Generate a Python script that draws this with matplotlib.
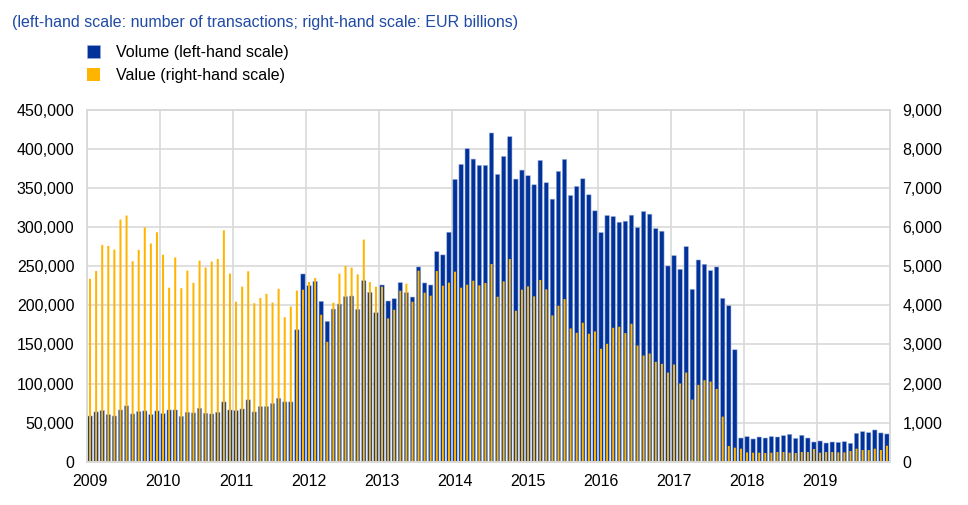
import numpy as np
import matplotlib
matplotlib.use('Agg')
from matplotlib import pyplot as plt
from matplotlib.ticker import FuncFormatter, MultipleLocator

plt.rcParams['font.family'] = ['Liberation Sans', 'DejaVu Sans']

years = list(range(2009, 2020))

# volume: number of transactions per month (left-hand scale)
volume = [
    58500, 63700, 65400, 60300, 58500, 66200, 71400, 61100, 64100, 65000, 60300, 65000,
    61500, 66200, 66200, 58100, 63300, 62400, 68400, 62000, 61100, 63300, 76500, 66200,
    65400, 67500, 79100, 63700, 70500, 70500, 74400, 81200, 76500, 76500, 168800, 240200,
    225200, 230800, 205200, 179500, 195300, 201700, 211100, 212000, 194900, 231700, 216700, 190600,
    226100, 205600, 208500, 229100, 216300, 210700, 249200, 228700, 226100, 268800, 264600, 293600,
    361200, 380400, 400500, 387200, 379100, 379100, 420600, 367600, 390600, 415900, 361600, 373100,
    365900, 354300, 385500, 356900, 335900, 371400, 386800, 340600, 352200, 362000, 341500, 321000,
    293200, 315000, 313700, 306400, 307700, 315400, 299600, 320100, 316700, 298300, 294900, 250500,
    263700, 246200, 275200, 220500, 258100, 252600, 244500, 249200, 209000, 199600, 143200, 30300,
    32000, 29100, 31600, 30300, 32100, 31600, 33300, 35000, 29900, 33800, 30300, 25200,
    26500, 23900, 25200, 24800, 25600, 23500, 36300, 38500, 37200, 40600, 36800, 35500,
]

# value: EUR billions per month (right-hand scale)
value = [
    4680, 4880, 5547, 5521, 5427, 6197, 6299, 5130, 5419, 5995, 5585, 5872,
    5295, 4453, 5226, 4440, 4889, 4577, 5145, 4970, 5120, 5188, 5920, 4815,
    4094, 4479, 4872, 4055, 4188, 4295, 4072, 4423, 3697, 3970, 4380, 4402,
    4598, 4701, 3761, 3068, 4068, 4812, 5009, 4966, 4795, 5684, 4598, 4479,
    4479, 3667, 3889, 4376, 4556, 4094, 4889, 4325, 4248, 4880, 4504, 4581,
    4863, 4453, 4530, 4632, 4513, 4573, 5060, 4222, 4615, 5188, 3863, 4402,
    4487, 4231, 4650, 4410, 3744, 3991, 4162, 3410, 3299, 3556, 3274, 3333,
    2889, 3017, 3427, 3453, 3291, 3530, 2974, 2718, 2769, 2556, 2504, 2282,
    2487, 2000, 2282, 1590, 1966, 2085, 2051, 1863, 1154, 402, 359, 333,
    239, 231, 231, 222, 231, 248, 248, 231, 222, 248, 248, 325,
    231, 248, 248, 239, 239, 274, 333, 299, 299, 333, 299, 410,
]

blue = '#003299'
yellow = '#ffb400'
grid = '#d9d9d9'

x = np.arange(len(volume))

fig = plt.figure(figsize=(9.68, 5.05), dpi=100)
ax = fig.add_axes([87/968, 1-461.7/505, (890-87)/968, (461.7-110)/505])
ax2 = ax.twinx()

b1 = ax.bar(x, volume, width=0.72, color=blue, edgecolor='#9fb1dd', linewidth=0.4,
            label='Volume (left-hand scale)', zorder=2, snap=False)
b2 = ax2.bar(x, value, width=0.33, color=yellow, linewidth=0,
             label='Value (right-hand scale)', zorder=2, snap=False)

ax.set_xlim(-0.5, len(x) - 0.5)
ax.set_ylim(0, 450000)
ax2.set_ylim(0, 9000)
ax.yaxis.set_major_locator(MultipleLocator(50000))
ax2.yaxis.set_major_locator(MultipleLocator(1000))
ax.yaxis.set_major_formatter(FuncFormatter(lambda v, p: f'{int(v):,}'))
ax2.yaxis.set_major_formatter(FuncFormatter(lambda v, p: f'{int(v):,}'))

# year labels under January, grid at year boundaries
ax.set_xticks(np.arange(0, len(x), 12))
ax.set_xticklabels([str(y) for y in years])
ax.set_xticks(np.arange(11.5, len(x) - 1, 12), minor=True)
ax.grid(True, which='minor', axis='x', color=grid, linewidth=1.2)
ax.grid(True, which='major', axis='y', color=grid, linewidth=1.2)
ax.set_axisbelow(True)

for a in (ax, ax2):
    a.tick_params(which='both', length=0, labelsize=11.5, pad=9, colors='black')
    for s in a.spines.values():
        s.set_color(grid)
        s.set_linewidth(1.2)

ax.set_zorder(1)
ax2.set_zorder(2)
ax2.patch.set_visible(False)

fig.text(12/968, 1-22/505,
         '(left-hand scale: number of transactions; right-hand scale: EUR billions)',
         fontsize=11.5, color='#1f4aa5', va='center', ha='left')

fig.legend(handles=[b1, b2], loc='upper left', bbox_to_anchor=(87/968, 1-45/505),
           frameon=False, fontsize=11.5, handlelength=0.8, handleheight=0.8,
           handletextpad=1.0, labelspacing=0.5, borderpad=0, borderaxespad=0)

plt.savefig('out.png', dpi=100)
